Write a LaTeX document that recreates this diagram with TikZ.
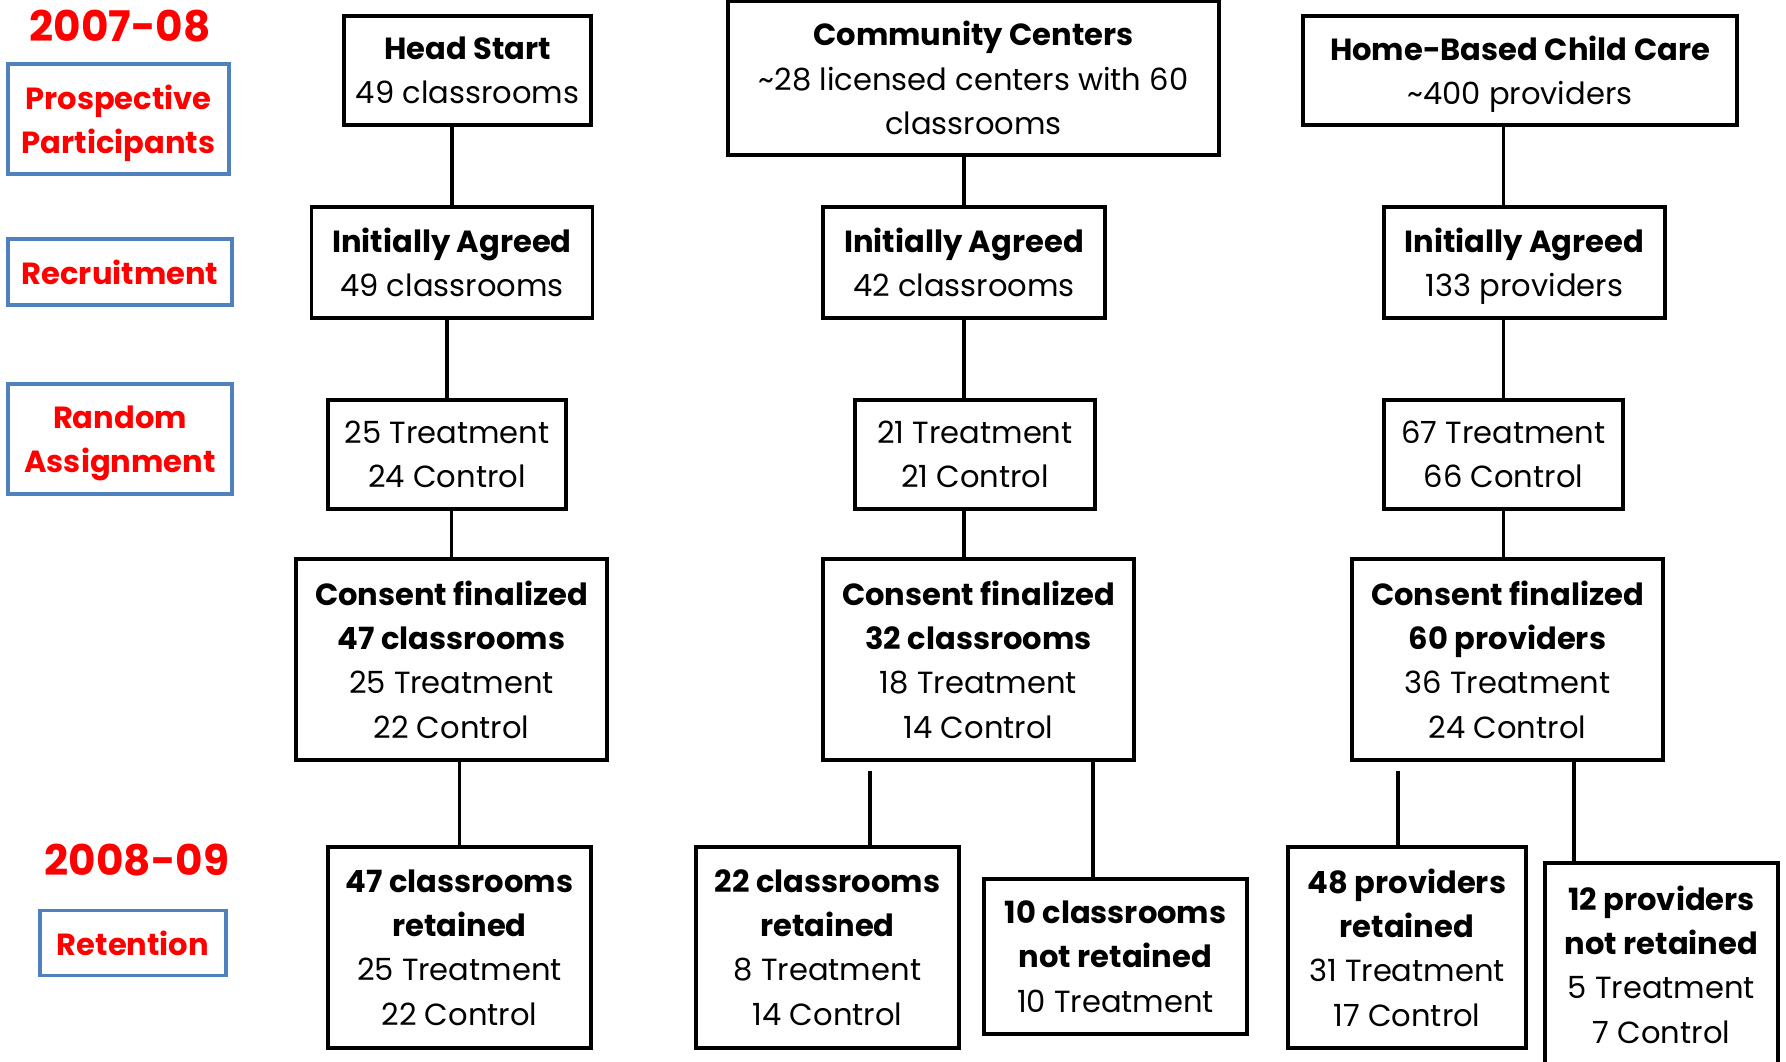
\documentclass[tikz,border=0pt]{standalone}
\usepackage{fontspec}
\setmainfont{Poppins}
\usetikzlibrary{positioning,calc}
\definecolor{stageblue}{RGB}{79,129,189}

\begin{document}
\begin{tikzpicture}[
  box/.style={draw, line width=1pt, align=center, inner sep=0pt, font=\fontsize{8.7}{12.6}\selectfont},
  stage/.style={draw=stageblue, line width=1pt, align=center, text=red, inner sep=0pt, font=\fontsize{8.7}{12.6}\selectfont\bfseries},
  yr/.style={text=red, font=\fontsize{12}{14}\selectfont\bfseries},
  link/.style={line width=1pt}
]
\useasboundingbox (0,0) rectangle (17.86,-10.61);

% stage labels on the left
\node[yr] (y1) at (1.20,-0.26) {2007-08};
\node[stage, minimum width=2.21cm, minimum height=1.10cm] (pp) at (1.185,-1.19) {Prospective\\\smash{Participants}};
\node[stage, minimum width=2.24cm, minimum height=0.66cm] (rec) at (1.20,-2.72) {Recruitment};
\node[stage, minimum width=2.24cm, minimum height=1.10cm] (ra) at (1.20,-4.39) {Random\\\smash{Assignment}};
\node[yr] (y2) at (1.37,-8.60) {2008-09};
\node[stage, minimum width=1.86cm, minimum height=0.65cm] (ret) at (1.33,-9.43) {Retention};

% Head Start
\node[box, minimum width=2.47cm, minimum height=1.09cm] (hs) at (4.675,-0.705) {\textbf{Head Start}\\49 classrooms};
\node[box, minimum width=2.81cm, minimum height=1.11cm] (ia1) at (4.52,-2.625) {\textbf{Initially Agreed}\\49 classrooms};
\node[box, minimum width=2.38cm, minimum height=1.09cm] (ra1) at (4.47,-4.545) {25 Treatment\\24 Control};
\node[box, minimum width=3.11cm, minimum height=2.01cm] (cf1) at (4.515,-6.595) {\textbf{Consent finalized}\\\textbf{47 classrooms}\\25 Treatment\\22 Control};
\node[box, minimum width=2.63cm, minimum height=2.01cm] (rt1) at (4.595,-9.475) {\textbf{47 classrooms}\\\textbf{retained}\\25 Treatment\\22 Control};

% Community Centers
\node[box, minimum width=4.91cm, minimum height=1.54cm] (cc) at (9.735,-0.78) {\textbf{Community Centers}\\\textasciitilde28 licensed centers with 60\\classrooms};
\node[box, minimum width=2.82cm, minimum height=1.11cm] (ia2) at (9.64,-2.625) {\textbf{Initially Agreed}\\42 classrooms};
\node[box, minimum width=2.40cm, minimum height=1.09cm] (ra2) at (9.75,-4.545) {21 Treatment\\21 Control};
\node[box, minimum width=3.11cm, minimum height=2.01cm] (cf2) at (9.785,-6.595) {\textbf{Consent finalized}\\\textbf{32 classrooms}\\18 Treatment\\14 Control};
\node[box, minimum width=2.63cm, minimum height=2.01cm] (rt2) at (8.275,-9.475) {\textbf{22 classrooms}\\\textbf{retained}\\8 Treatment\\14 Control};
\node[box, minimum width=2.63cm, minimum height=1.55cm] (nr2) at (11.155,-9.565) {\textbf{10 classrooms}\\\textbf{not retained}\\10 Treatment};

% Home-Based Child Care
\node[box, minimum width=4.34cm, minimum height=1.09cm] (hb) at (15.20,-0.705) {\textbf{Home-Based Child Care}\\\smash{\textasciitilde400 providers}};
\node[box, minimum width=2.81cm, minimum height=1.11cm] (ia3) at (15.245,-2.625) {\textbf{Initially Agreed}\\\smash{133 providers}};
\node[box, minimum width=2.39cm, minimum height=1.09cm] (ra3) at (15.035,-4.545) {67 Treatment\\66 Control};
\node[box, minimum width=3.11cm, minimum height=2.01cm] (cf3) at (15.075,-6.595) {\textbf{Consent finalized}\\\textbf{60 providers}\\36 Treatment\\24 Control};
\node[box, minimum width=2.38cm, minimum height=2.01cm] (rt3) at (14.07,-9.475) {\textbf{48 providers}\\\textbf{retained}\\31 Treatment\\17 Control};
\node[box, minimum width=2.33cm, minimum height=2.03cm] (nr3) at (16.615,-9.645) {\textbf{12 providers}\\\textbf{not retained}\\5 Treatment\\7 Control};

% links
\draw[link] (hs.south -| ia1.north) -- (ia1.north);
\draw[link] (ia1.south -| ra1.north) -- (ra1.north);
\draw[link] (ra1.south -| cf1.north) -- (cf1.north);
\draw[link] (cf1.south -| rt1.north) -- (rt1.north);

\draw[link] (cc.south -| ia2.north) -- (ia2.north);
\draw[link] (ia2.south) -- (ia2.south |- ra2.north);
\draw[link] (ra2.south -| ia2.south) -- (cf2.north -| ia2.south);

\draw[link] (hb.south -| ra3.north) -- (ia3.north -| ra3.north);
\draw[link] (ia3.south -| ra3.north) -- (ra3.north);
\draw[link] (ra3.south) -- (ra3.south |- cf3.north);

\path (cf2.south west) ++(0.49,-0.09) coordinate (c2l);
\path (cf2.south west) ++(2.72,0) coordinate (c2r);
\draw[link] (c2l) -- (c2l |- rt2.north);
\draw[link] (c2r) -- (c2r |- nr2.north);

\path (cf3.south west) ++(0.48,-0.09) coordinate (c3l);
\path (cf3.south west) ++(2.24,0) coordinate (c3r);
\draw[link] (c3l) -- (c3l |- rt3.north);
\draw[link] (c3r) -- (c3r |- nr3.north);
\end{tikzpicture}
\end{document}
